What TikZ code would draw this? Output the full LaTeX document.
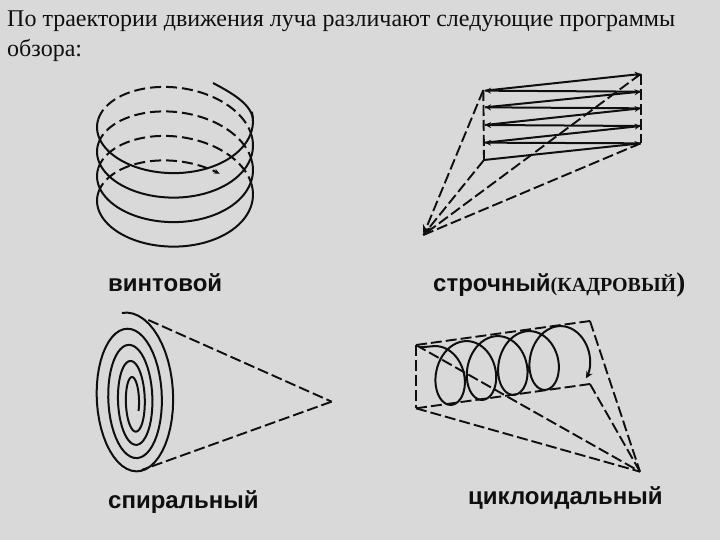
\documentclass[tikz,border=0pt]{standalone}
\usepackage{fontspec}
\usepackage{xcolor}
\setmainfont{Liberation Serif}
\newfontfamily\labelfont{Liberation Sans}
\usetikzlibrary{arrows.meta, positioning, calc}
\definecolor{slidegray}{RGB}{217, 217, 217}
\definecolor{inkblack}{RGB}{15, 15, 15}

\begin{document}
\begin{tikzpicture}[
		x=1pt, y=-1pt,
		declare function={
			helixx(\t)=175+78*cos(\t);
			helixy(\t)=118+49*sin(\t)+\t/360*24.5+3*cos(\t);
			spiralrx(\t)=124.4-0.1067*\t+21.3*(\t/1000)*(\t/1000);
			spiralry(\t)=237-0.1225*\t;
			spiralx(\t)=125+0.005*\t+spiralrx(\t)*cos(\t)+0.05*spiralry(\t)*sin(\t);
			spiraly(\t)=272+0.012*\t+spiralry(\t)*sin(\t);
			loopx(\t)=112+\t/360*94+66*cos(\t);
			loopy(\t)=196.5-\t/360*15+92*sin(\t);
		},
		trace/.style={draw=inkblack, line width=2pt, line join=round},
		hidden/.style={draw=inkblack, line width=2pt, dash pattern=on 11pt off 5pt},
		ray/.style={draw=inkblack, line width=1.9pt, dash pattern=on 11pt off 4pt},
		scanline/.style={draw=inkblack, line width=2pt, -{Stealth[length=6pt, width=6pt]}},
		typename/.style={anchor=base west, inner sep=0pt, text=inkblack, font=\labelfont\bfseries\fontsize{24}{26}\selectfont},
		heading/.style={anchor=base west, inner sep=0pt, text=inkblack, font=\fontsize{24}{26}\selectfont}
	]
	\fill[slidegray] (0,0) rectangle (720,540);
	\useasboundingbox (0,0) rectangle (720,540);

	% Heading
	\node[heading] (title1) at (7,27) {По траектории движения луча различают следующие программы};
	\node[heading] (title2) at (7,57) {обзора:};

	% Helical scan
	\draw[trace] (213,83) .. controls (232,93) and (253,105) .. (253,121);
	\foreach \k in {0,360,720,1080} {
		\draw[trace] plot[domain={\k-10}:{\k+190}, samples=50, variable=\t] ({helixx(\t)},{helixy(\t)});
	}
	\foreach \k in {0,360,720} {
		\draw[hidden] plot[domain={\k+190}:{\k+350}, samples=40, variable=\t] ({helixx(\t)},{helixy(\t)});
	}
	\draw[hidden, -{Stealth[length=6pt, width=5pt]}] plot[domain=1270:1385, samples=40, variable=\t] ({helixx(\t)},{helixy(\t)});
	\node[typename] (helical) at (108,291) {винтовой};

	% Raster scan
	\begin{scope}[shift={(410,60)}, scale=0.3333]
		\coordinate (apex) at (40,525);
		\coordinate (lt) at (220,90);
		\coordinate (lb) at (222,300);
		\coordinate (rt) at (692,42);
		\coordinate (rb) at (692,250);
		\draw[scanline] (lb) -- (rb);
		\draw[scanline] (rb) -- (225,248);
		\draw[scanline] (225,248) -- (692,198);
		\draw[scanline] (692,198) -- (225,195);
		\draw[scanline] (225,195) -- (692,145);
		\draw[scanline] (692,145) -- (225,142);
		\draw[scanline] (225,142) -- (692,95);
		\draw[scanline] (692,95) -- (225,92);
		\draw[scanline] (225,92) -- (rt);
		\draw[ray] (lt) -- (lb);
		\draw[ray] (rt) -- (rb);
		\draw[ray] (lb) -- (apex);
		\draw[ray] (rb) -- (apex);
		\draw[ray] (rt) -- (apex);
		\draw[ray, -{Stealth[length=10pt, width=9pt]}] (lt) -- (apex);
	\end{scope}
	\node[typename] (raster) at (433,291) {строчный\textmd{\rmfamily\bfseries\fontsize{20}{24}\selectfont(КАДРОВЫЙ\fontsize{27}{27}\selectfont)}};

	% Spiral scan
	\begin{scope}[shift={(90,305)}, scale=0.3333]
		\coordinate (tip) at (725,290);
		\draw[trace] plot[domain=-97:1470, samples=220, variable=\t] ({spiralx(\t)},{spiraly(\t)});
		\draw[ray] (175,45) -- (tip);
		\draw[ray] (tip) -- (155,495);
	\end{scope}
	\node[typename] (spiral) at (108,508) {спиральный};

	% Cycloidal scan
	\begin{scope}[shift={(405,310)}, scale=0.3333]
		\coordinate (ctl) at (33,105);
		\coordinate (ctr) at (555,33);
		\coordinate (cbr) at (555,222);
		\coordinate (cbl) at (33,295);
		\coordinate (focus) at (705,485);
		\draw[ray] (ctl) -- (ctr);
		\draw[ray] (ctl) -- (cbl);
		\draw[ray] (cbl) -- (cbr);
		\draw[ray] (ctr) -- (focus);
		\draw[ray] (cbr) -- (focus);
		\draw[ray] (ctl) -- (focus);
		\draw[ray] (cbl) -- (focus);
		\draw[trace, -{Stealth[length=7pt, width=7pt]}] (45,112) -- plot[domain=-90:1490, samples=220, variable=\t] ({loopx(\t)},{loopy(\t)});
	\end{scope}
	\node[typename] (cycloidal) at (468,504) {циклоидальный};
\end{tikzpicture}
\end{document}
